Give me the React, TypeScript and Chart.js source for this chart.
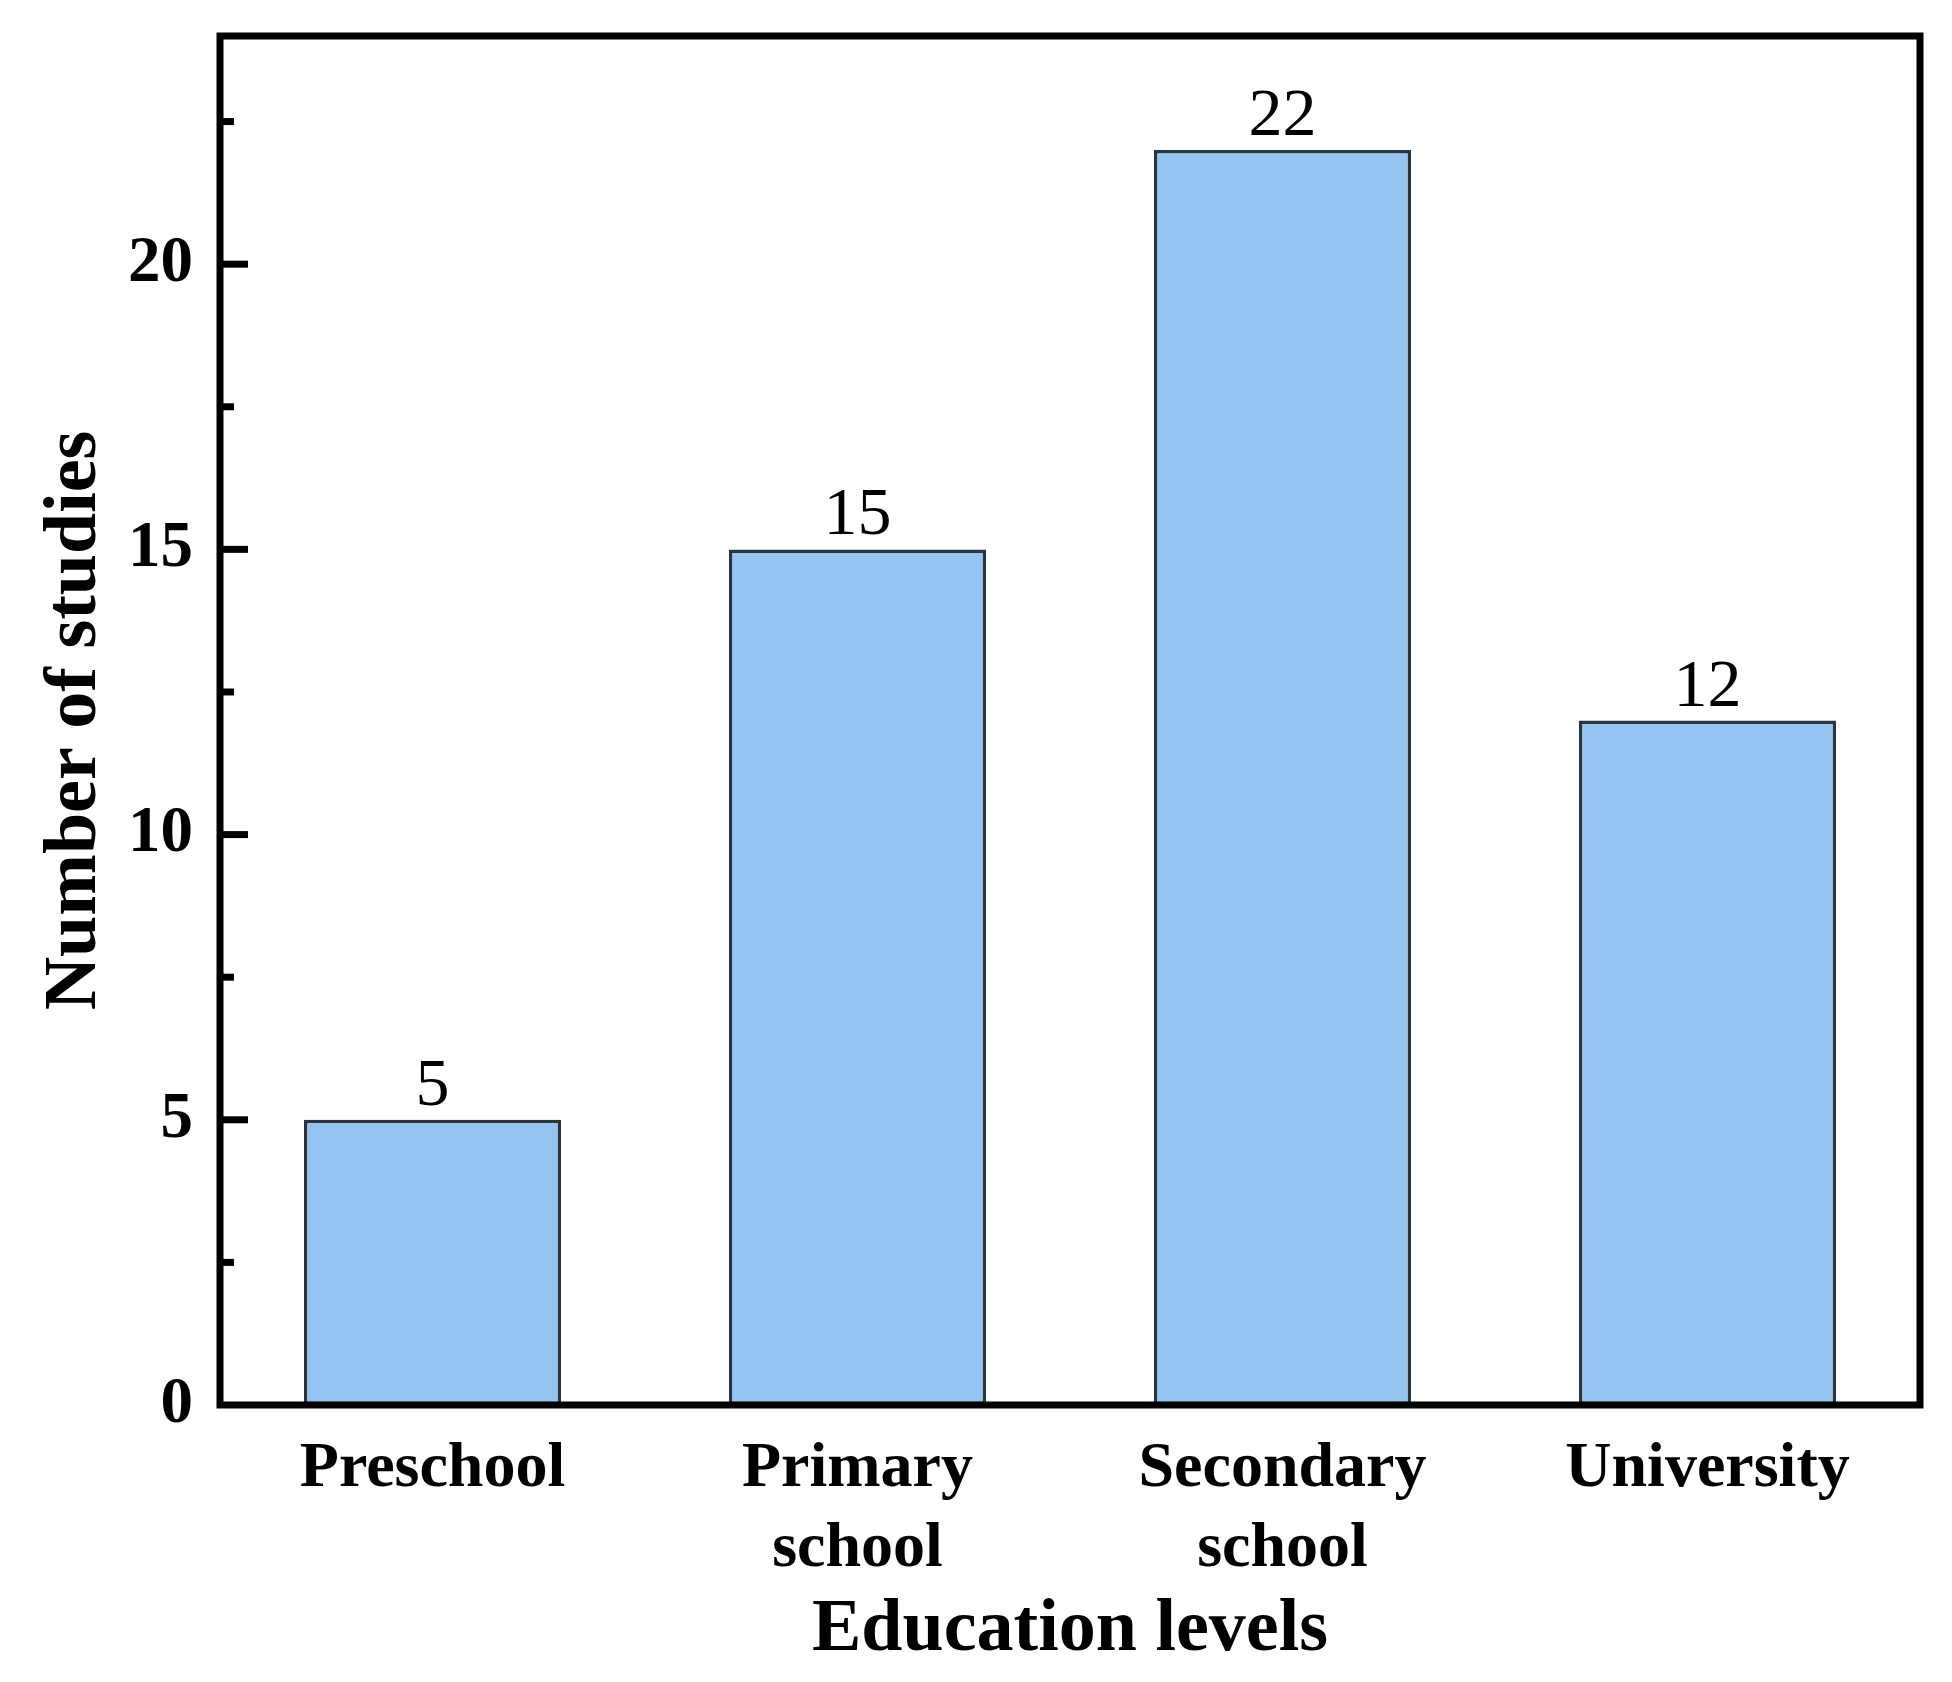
import React, { useEffect, useRef } from "react";
import { Chart, registerables } from "chart.js";

Chart.register(...registerables);

const categories: (string | string[])[] = [
  "Preschool",
  ["Primary", "school"],
  ["Secondary", "school"],
  "University",
];
const studyCounts: number[] = [5, 15, 22, 12];
const yTickValues: number[] = [0, 5, 10, 15, 20];
const yMinorStep = 2.5;
const yMin = 0;
const yMax = 24;
const xTitle = "Education levels";
const yTitle = "Number of studies";

const SERIF = "'Liberation Serif', 'Times New Roman', serif";

const framePlugin = {
  id: "framePlugin",
  afterDatasetsDraw(chart: any) {
    const { ctx, chartArea } = chart;
    const yScale = chart.scales.y;
    const meta = chart.getDatasetMeta(0);
    ctx.save();
    ctx.fillStyle = "#000";
    ctx.font = `68px ${SERIF}`;
    ctx.textAlign = "center";
    ctx.textBaseline = "alphabetic";
    meta.data.forEach((bar: any, i: number) => {
      ctx.fillText(String(studyCounts[i]), bar.x, bar.y - 15);
    });
    ctx.restore();

    ctx.save();
    ctx.strokeStyle = "#000";
    ctx.lineWidth = 7;
    ctx.lineJoin = "miter";
    ctx.strokeRect(
      chartArea.left,
      chartArea.top,
      chartArea.right - chartArea.left,
      chartArea.bottom - chartArea.top
    );
    ctx.lineCap = "butt";
    for (let v = yMin; v <= yMax + 1e-9; v += yMinorStep) {
      const major = yTickValues.includes(v);
      const py = yScale.getPixelForValue(v);
      if (v === yMin) continue;
      ctx.beginPath();
      ctx.moveTo(chartArea.left, py);
      ctx.lineTo(chartArea.left + (major ? 28 : 14), py);
      ctx.stroke();
    }
    ctx.restore();
  },
};

export default function App() {
  const canvasRef = useRef<HTMLCanvasElement | null>(null);

  useEffect(() => {
    if (!canvasRef.current) return;
    const chart = new Chart(canvasRef.current, {
      type: "bar",
      data: {
        labels: categories as any,
        datasets: [
          {
            data: studyCounts,
            backgroundColor: "#93C4F2",
            borderColor: "#2B3540",
            borderWidth: 3.5,
            borderSkipped: false,
            barPercentage: 0.605,
            categoryPercentage: 1,
          },
        ],
      },
      options: {
        responsive: false,
        animation: false,
        devicePixelRatio: 1,
        layout: { padding: { top: 36, right: 32, left: 0, bottom: 0 } },
        plugins: {
          legend: { display: false },
          tooltip: { enabled: false },
          title: { display: false },
        },
        scales: {
          x: {
            type: "category",
            offset: true,
            grid: { display: false, drawTicks: false },
            border: { display: false },
            ticks: {
              color: "#000",
              padding: 24,
              maxRotation: 0,
              minRotation: 0,
              autoSkip: false,
              font: { family: SERIF, size: 64, weight: "bold", lineHeight: 1.25 },
            },
            title: {
              display: true,
              text: xTitle,
              color: "#000",
              padding: { top: 0, bottom: 7 },
              font: { family: SERIF, size: 74, weight: "bold", lineHeight: 1.2 },
            },
            afterFit(scale: any) {
              scale.height = 277;
              scale.paddingLeft = 0;
              scale.paddingRight = 0;
            },
          },
          y: {
            type: "linear",
            min: yMin,
            max: yMax,
            grid: { display: false, drawTicks: false },
            border: { display: false },
            ticks: {
              stepSize: 5,
              includeBounds: false,
              color: "#000",
              padding: 27,
              font: { family: SERIF, size: 65, weight: "bold", lineHeight: 1.2 },
            },
            title: {
              display: true,
              text: yTitle,
              color: "#000",
              padding: { top: 31, bottom: 0 },
              font: { family: SERIF, size: 74, weight: "bold", lineHeight: 1.2 },
            },
            afterFit(scale: any) {
              scale.width = 220;
              scale.paddingTop = 0;
              scale.paddingBottom = 0;
            },
          },
        },
      },
      plugins: [framePlugin],
    } as any);
    return () => chart.destroy();
  }, []);

  return (
    <div style={{ position: "absolute", left: 0, top: 0, width: 1952, height: 1682, background: "#fff" }}>
      <canvas ref={canvasRef} width={1952} height={1682} style={{ display: "block" }} />
    </div>
  );
}
